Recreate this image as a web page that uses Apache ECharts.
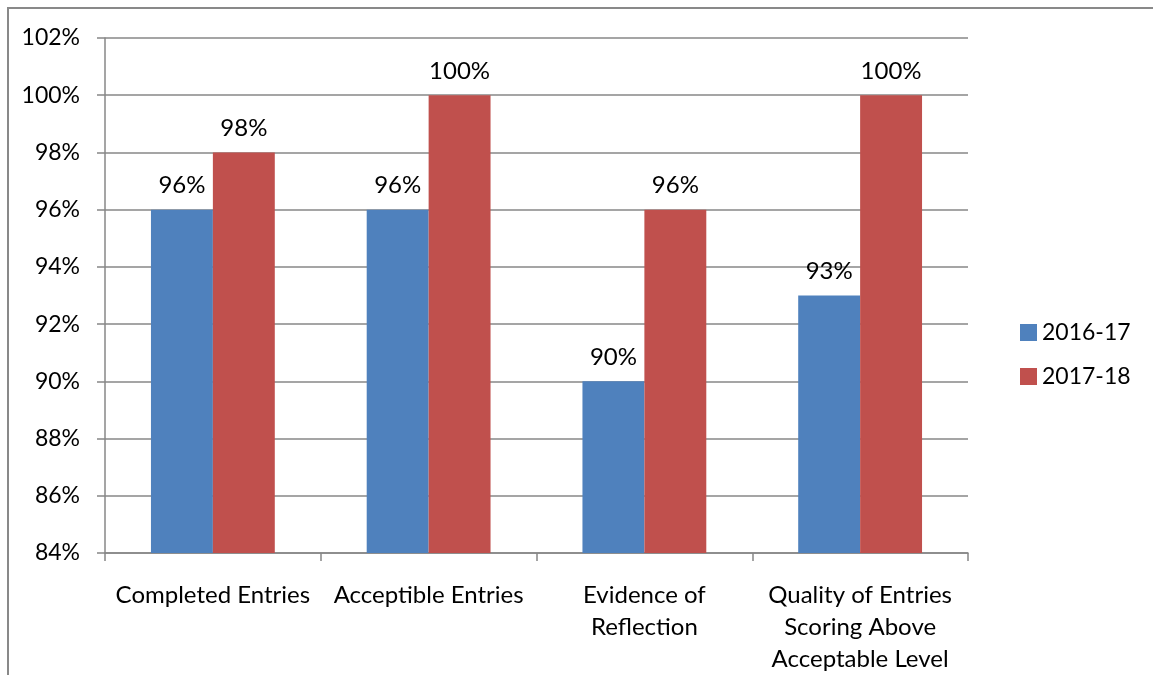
<!DOCTYPE html>
<html>
<head>
<meta charset="utf-8">
<script src="https://cdn.jsdelivr.net/npm/echarts@6/dist/echarts.min.js"></script>
<style>
  html, body { margin: 0; padding: 0; background: #fff; }
  #chart { width: 1153px; height: 675px; }
</style>
</head>
<body>
<div id="chart"></div>
<script>
const categories = [
  'Completed Entries',
  'Acceptible Entries',
  'Evidence of\nReflection',
  'Quality of Entries\nScoring Above\nAcceptable Level'
];
const seriesNames = ['2016-17', '2017-18'];
const values2016 = [96, 96, 90, 93];
const values2017 = [98, 100, 96, 100];
const colors = ['#4f81bd', '#c0504d'];

const FONT = 'Lato, "Open Sans", sans-serif';
const GRID_COLOR = '#878787';

const chart = echarts.init(document.getElementById('chart'));

function barSeries(name, data, color) {
  return {
    name: name,
    type: 'bar',
    data: data,
    barGap: '0%',
    barCategoryGap: '42.6%',
    itemStyle: { color: color },
    label: {
      show: true,
      position: 'top',
      distance: 12,
      formatter: '{c}%',
      color: '#000',
      fontFamily: FONT,
      fontSize: 24
    }
  };
}

chart.setOption({
  animation: false,
  backgroundColor: '#fff',
  graphic: [{
    type: 'rect',
    shape: { x: 8, y: 8, width: 1200, height: 720 },
    style: { fill: 'none', stroke: '#898989', lineWidth: 2 },
    silent: true,
    z: -10
  }],
  grid: { left: 105, right: 185, top: 38, bottom: 122, containLabel: false },
  legend: {
    orient: 'vertical',
    left: 1015,
    top: 316,
    itemWidth: 17,
    itemHeight: 17,
    itemGap: 21,
    icon: 'rect',
    textStyle: { color: '#000', fontFamily: FONT, fontSize: 23 },
    data: seriesNames
  },
  xAxis: {
    type: 'category',
    data: categories,
    boundaryGap: true,
    axisLine: { show: true, lineStyle: { color: GRID_COLOR, width: 1.5 } },
    axisTick: { show: true, length: 8, alignWithLabel: false, lineStyle: { color: GRID_COLOR, width: 1.5 } },
    axisLabel: {
      color: '#000',
      fontFamily: FONT,
      fontSize: 24,
      lineHeight: 32,
      margin: 26,
      interval: 0
    }
  },
  yAxis: {
    type: 'value',
    min: 84,
    max: 102,
    interval: 2,
    axisLine: { show: true, lineStyle: { color: GRID_COLOR, width: 1.5 } },
    axisTick: { show: true, length: 8, lineStyle: { color: GRID_COLOR, width: 1.5 } },
    splitLine: { show: true, lineStyle: { color: GRID_COLOR, width: 1.5 } },
    axisLabel: {
      formatter: '{value}%',
      color: '#000',
      fontFamily: FONT,
      fontSize: 23,
      margin: 25
    }
  },
  series: [
    barSeries(seriesNames[0], values2016, colors[0]),
    barSeries(seriesNames[1], values2017, colors[1])
  ]
});
</script>
</body>
</html>
